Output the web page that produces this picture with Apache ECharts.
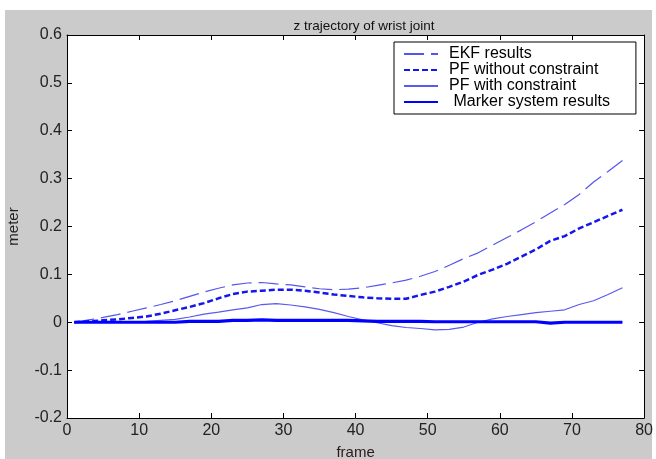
<!DOCTYPE html>
<html>
<head>
<meta charset="utf-8">
<script src="https://cdn.jsdelivr.net/npm/echarts@6/dist/echarts.min.js"></script>
<style>
  html, body { margin: 0; padding: 0; background: #fff; }
  #main { width: 656px; height: 459px; }
</style>
</head>
<body>
<div id="main"></div>
<script>
var frames = [1, 3, 5, 7, 9, 11, 13, 15, 17, 19, 21, 23, 25, 27, 29, 31, 33, 35, 37, 39,
  41, 43, 45, 47, 49, 51, 53, 55, 57, 59, 61, 63, 65, 67, 69, 71, 73, 75, 77];

var ekf = [0.000, 0.005, 0.010, 0.016, 0.023, 0.030, 0.037, 0.045, 0.054, 0.063,
  0.071, 0.078, 0.082, 0.083, 0.080, 0.078, 0.074, 0.070, 0.068, 0.069,
  0.072, 0.077, 0.082, 0.088, 0.096, 0.106, 0.119, 0.133, 0.145, 0.161,
  0.177, 0.193, 0.210, 0.228, 0.246, 0.267, 0.293, 0.315, 0.338];

var pfNoConstraint = [0.000, 0.002, 0.004, 0.006, 0.009, 0.012, 0.018, 0.025, 0.032, 0.040,
  0.050, 0.059, 0.064, 0.066, 0.068, 0.068, 0.066, 0.062, 0.058, 0.055,
  0.052, 0.050, 0.049, 0.049, 0.057, 0.064, 0.074, 0.085, 0.099, 0.110,
  0.122, 0.137, 0.152, 0.170, 0.180, 0.196, 0.209, 0.222, 0.235];

var pfConstraint = [0.000, 0.000, 0.000, 0.001, 0.001, 0.002, 0.004, 0.006, 0.011, 0.017,
  0.021, 0.026, 0.030, 0.037, 0.039, 0.036, 0.032, 0.027, 0.020, 0.012,
  0.005, -0.001, -0.007, -0.011, -0.013, -0.016, -0.015, -0.010, 0.000, 0.007,
  0.012, 0.016, 0.020, 0.023, 0.026, 0.037, 0.045, 0.058, 0.072];

var marker = [0.000, 0.000, 0.000, 0.000, 0.000, 0.000, 0.000, 0.000, 0.002, 0.002,
  0.002, 0.004, 0.004, 0.005, 0.004, 0.004, 0.004, 0.004, 0.004, 0.004,
  0.003, 0.002, 0.002, 0.002, 0.002, 0.001, 0.001, 0.001, 0.001, 0.001,
  0.001, 0.001, 0.001, -0.002, 0.000, 0.000, 0.000, 0.000, 0.000];

var names = ['EKF results', 'PF without constraint', 'PF with constraint', ' Marker system results'];

function pairs(vals) {
  return frames.map(function (f, i) { return [f, vals[i]]; });
}

var chart = echarts.init(document.getElementById('main'));

var font = 'Liberation Sans, Arial, sans-serif';

// matlab style frame: ticks inside on all four sides
function axisBase(extra) {
  var a = {
    axisLine: { show: true, onZero: false, lineStyle: { color: '#000', width: 1 } },
    axisTick: { show: true, inside: true, length: 5, lineStyle: { color: '#000', width: 1 } },
    splitLine: { show: false }
  };
  for (var k in extra) a[k] = extra[k];
  return a;
}

var option = {
  animation: false,
  backgroundColor: '#fff',
  // grey matlab figure background
  graphic: [{
    type: 'rect',
    z: -10,
    shape: { x: 5, y: 10, width: 647, height: 449 },
    style: { fill: '#cbcbcb' }
  }],
  title: {
    text: 'z trajectory of wrist joint',
    left: 359,
    textAlign: 'center',
    top: 14,
    textStyle: { fontFamily: font, fontSize: 13.5, fontWeight: 'normal', color: '#111' }
  },
  legend: {
    orient: 'vertical',
    left: 394,
    top: 42,
    padding: [4, 26, 4, 9],
    itemGap: 0,
    itemWidth: 34,
    itemHeight: 14,
    backgroundColor: '#fff',
    borderColor: '#000',
    borderWidth: 1,
    itemStyle: { opacity: 0 },
    textStyle: { fontFamily: font, fontSize: 16, lineHeight: 16, color: '#000', padding: [0, 0, 0, 6] },
    data: names
  },
  grid: {
    left: 67,
    top: 35,
    right: 9,
    bottom: 41,
    outerBoundsContain: 'axisLabel',
    outerBounds: { left: 0, top: 0, right: 0, bottom: 0 },
    show: true,
    backgroundColor: '#fff',
    borderWidth: 0
  },
  xAxis: [
    axisBase({
      type: 'value',
      min: 0,
      max: 80,
      interval: 10,
      name: 'frame',
      nameLocation: 'middle',
      nameGap: 27,
      nameTextStyle: { fontFamily: font, fontSize: 15, color: '#2a1a1a' },
      axisLabel: { fontFamily: font, fontSize: 16, color: '#222', margin: 5 }
    }),
    axisBase({
      type: 'value',
      position: 'top',
      min: 0,
      max: 80,
      interval: 10,
      axisLabel: { show: false }
    })
  ],
  yAxis: [
    axisBase({
      type: 'value',
      min: -0.2,
      max: 0.6,
      interval: 0.1,
      name: 'meter',
      nameLocation: 'middle',
      nameRotate: 90,
      nameGap: 46,
      nameTextStyle: { fontFamily: font, fontSize: 15, color: '#222' },
      axisLabel: {
        fontFamily: font, fontSize: 16, color: '#222', margin: 5,
        formatter: function (v) { return String(Math.round(v * 10) / 10); }
      }
    }),
    axisBase({
      type: 'value',
      position: 'right',
      min: -0.2,
      max: 0.6,
      interval: 0.1,
      axisLabel: { show: false }
    })
  ],
  series: [
    {
      name: names[0],
      type: 'line',
      symbol: 'none',
      data: pairs(ekf),
      lineStyle: { color: '#5555ee', width: 1.2, type: [20, 7] },
      itemStyle: { color: '#5555ee' }
    },
    {
      name: names[1],
      type: 'line',
      symbol: 'none',
      data: pairs(pfNoConstraint),
      lineStyle: { color: '#1515f0', width: 2.5, type: [6, 3] },
      itemStyle: { color: '#1515f0' }
    },
    {
      name: names[2],
      type: 'line',
      symbol: 'none',
      data: pairs(pfConstraint),
      lineStyle: { color: '#5a5aee', width: 1.2 },
      itemStyle: { color: '#5a5aee' }
    },
    {
      name: names[3],
      type: 'line',
      symbol: 'none',
      data: pairs(marker),
      lineStyle: { color: '#0000ff', width: 3.2 },
      itemStyle: { color: '#0000ff' }
    }
  ]
};

chart.setOption(option);
</script>
</body>
</html>
